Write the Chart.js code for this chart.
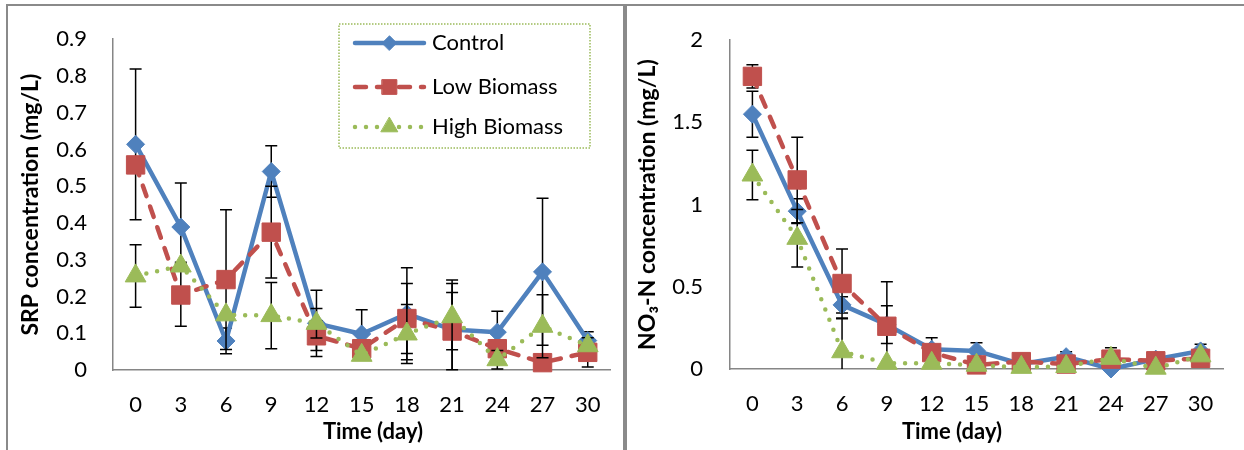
<!DOCTYPE html>
<html>
<head>
<meta charset="utf-8">
<script src="https://cdn.jsdelivr.net/npm/chart.js@4.4.0/dist/chart.umd.min.js"></script>
<style>
  html, body { margin: 0; padding: 0; background: #fff; }
  body { width: 1244px; height: 450px; position: relative; overflow: hidden; }
  canvas { position: absolute; top: 0; }
  #srpChart { left: 0; }
  #no3Chart { left: 627px; }
  .frame { position: absolute; border: 0 solid #8a8a8a; pointer-events: none; }
  #frame1 { left: 6px; top: 4px; width: 615px; height: 460px; border-width: 2px 2px 0 2px; }
  #frame2 { left: 625px; top: 4px; width: 700px; height: 460px; border-width: 2px 0 0 2px; }
</style>
</head>
<body>
<canvas id="srpChart" width="623" height="450"></canvas>
<canvas id="no3Chart" width="617" height="450"></canvas>
<div class="frame" id="frame1"></div>
<div class="frame" id="frame2"></div>
<script>
// 采样时间 (day)
const days = ['0', '3', '6', '9', '12', '15', '18', '21', '24', '27', '30'];
const seriesNames = ['Control', 'Low Biomass', 'High Biomass'];

// SRP (mg/L)
const srpControl = [0.614, 0.389, 0.079, 0.54, 0.127, 0.098, 0.153, 0.11, 0.103, 0.267, 0.08];
const srpLow     = [0.558, 0.204, 0.246, 0.375, 0.093, 0.058, 0.14, 0.106, 0.058, 0.02, 0.048];
const srpHigh    = [0.256, 0.283, 0.15, 0.148, 0.127, 0.04, 0.098, 0.145, 0.028, 0.119, 0.066];
const srpControlErr = [0.205, 0.12, 0.035, 0.07, 0.09, 0.066, 0.125, 0.135, 0.057, 0.2, 0.024];
const srpLowErr     = [0, 0.085, 0.19, 0.125, 0.04, 0, 0.095, 0.105, 0, 0, 0.04];
const srpHighErr    = [0.085, 0.01, 0, 0.09, 0.04, 0, 0.08, 0.09, 0.025, 0.086, 0];
const srpTicks = { min: 0, max: 0.9, step: 0.1 };

// NO3-N (mg/L)
const no3Control = [1.55, 0.96, 0.39, 0.27, 0.12, 0.11, 0.03, 0.075, 0.0, 0.06, 0.11];
const no3Low     = [1.78, 1.15, 0.52, 0.26, 0.10, 0.025, 0.045, 0.03, 0.06, 0.05, 0.065];
const no3High    = [1.18, 0.795, 0.105, 0.035, 0.035, 0.023, 0.01, 0.015, 0.065, 0.005, 0.08];
const no3ControlErr = [0.14, 0.075, 0.05, 0.115, 0.07, 0.05, 0, 0.03, 0.13, 0, 0.04];
const no3LowErr     = [0.07, 0.26, 0.21, 0.27, 0, 0, 0, 0, 0, 0, 0];
const no3HighErr    = [0.15, 0.175, 0.2, 0, 0, 0, 0, 0, 0, 0, 0];
const no3Ticks = { min: 0, max: 2, step: 0.5 };

const FONT = 'Lato, "DejaVu Sans", sans-serif';
Chart.defaults.font.family = FONT;
Chart.defaults.color = '#000';

// 系列样式
const styles = [
    { color: '#4F81BD', pointStyle: 'rectRot', pointRadius: 9, dash: [], cap: 'round' },
    { color: '#C0504D', pointStyle: 'rect', pointRadius: 13, dash: [11, 11], cap: 'round' },
    { color: '#9BBB59', pointStyle: 'triangle', pointRadius: 12, dash: [0, 11], cap: 'round' }
];

function makeDataset(i, values, errors) {
    const s = styles[i];
    return {
        label: seriesNames[i],
        data: values,
        errors: errors,
        borderColor: s.color,
        backgroundColor: s.color,
        borderWidth: 4.5,
        borderDash: s.dash,
        borderCapStyle: s.cap,
        borderJoinStyle: 'round',
        pointStyle: s.pointStyle,
        pointRadius: s.pointRadius,
        pointBackgroundColor: s.color,
        pointBorderColor: s.color,
        pointBorderWidth: 1,
        tension: 0,
        clip: false,
        order: 3 - i
    };
}

// 误差线
const errorBars = {
    id: 'errorBars',
    beforeDatasetDraw(chart, args) {
        const ds = chart.data.datasets[args.index];
        if (!ds.errors) return;
        const y = chart.scales.y;
        const ctx = chart.ctx;
        ctx.save();
        ctx.strokeStyle = '#000';
        ctx.lineWidth = 1.5;
        args.meta.data.forEach((pt, i) => {
            const e = ds.errors[i];
            if (!e) return;
            const v = ds.data[i];
            const lo = v - e;
            const top = y.getPixelForValue(v + e);
            const bot = y.getPixelForValue(Math.max(lo, y.min));
            ctx.beginPath();
            ctx.moveTo(pt.x, top);
            ctx.lineTo(pt.x, bot);
            ctx.moveTo(pt.x - 6, top);
            ctx.lineTo(pt.x + 6, top);
            if (lo >= y.min) {
                ctx.moveTo(pt.x - 6, bot);
                ctx.lineTo(pt.x + 6, bot);
            }
            ctx.stroke();
        });
        ctx.restore();
    }
};

// 图例（虚线框）
const boxLegend = {
    id: 'boxLegend',
    afterDraw(chart, args, opts) {
        if (!opts.display) return;
        const ctx = chart.ctx;
        ctx.save();
        ctx.strokeStyle = '#9BBB59';
        ctx.lineWidth = 1.5;
        ctx.setLineDash([1.5, 1.5]);
        ctx.strokeRect(opts.left, opts.top, opts.width, opts.height);
        chart.data.datasets.forEach((ds, i) => {
            const y = opts.rows[i];
            ctx.setLineDash(ds.borderDash);
            ctx.lineCap = ds.borderCapStyle;
            ctx.strokeStyle = ds.borderColor;
            ctx.lineWidth = ds.borderWidth;
            ctx.beginPath();
            ctx.moveTo(opts.lineX0, y);
            ctx.lineTo(opts.lineX1, y);
            ctx.stroke();
            ctx.setLineDash([]);
            ctx.fillStyle = ds.pointBackgroundColor;
            ctx.strokeStyle = ds.pointBorderColor;
            ctx.lineWidth = 1;
            Chart.helpers.drawPoint(ctx, {
                pointStyle: ds.pointStyle,
                radius: ds.pointRadius * 0.8,
                rotation: 0,
                borderWidth: 1
            }, (opts.lineX0 + opts.lineX1) / 2, y);
            ctx.fillStyle = '#000';
            ctx.font = '22px ' + FONT;
            ctx.textBaseline = 'middle';
            ctx.textAlign = 'left';
            ctx.fillText(ds.label, opts.textX, y);
        });
        ctx.restore();
    }
};

// x 轴标题
const xTitle = {
    id: 'xTitle',
    afterDraw(chart, args, opts) {
        const ctx = chart.ctx;
        ctx.save();
        ctx.font = 'bold 22px ' + FONT;
        ctx.fillStyle = '#000';
        ctx.textAlign = 'center';
        ctx.textBaseline = 'middle';
        ctx.fillText(opts.text, opts.x, opts.y);
        ctx.restore();
    }
};

function createChart(id, datasets, ticks, yTitle, box) {
    return new Chart(document.getElementById(id), {
        type: 'line',
        data: { labels: days, datasets: datasets },
        plugins: [errorBars, boxLegend, xTitle],
        options: {
            responsive: false,
            animation: false,
            events: [],
            devicePixelRatio: 1,
            layout: {
                autoPadding: false,
                padding: { top: box.top, right: box.right, left: 0, bottom: 0 }
            },
            plugins: {
                legend: { display: false },
                tooltip: { enabled: false },
                boxLegend: box.legend,
                xTitle: { text: 'Time (day)', x: box.xTitleX, y: 432 }
            },
            scales: {
                x: {
                    type: 'category',
                    offset: true,
                    grid: { display: false, drawTicks: false },
                    border: { display: true, color: '#868686', width: 1.5 },
                    ticks: { padding: 22, font: { size: 22 }, maxRotation: 0, autoSkip: false },
                    afterFit: function(scale) { scale.height = box.xHeight; }
                },
                y: {
                    min: ticks.min,
                    max: ticks.max,
                    grid: { display: false, drawTicks: false },
                    border: { display: true, color: '#868686', width: 1.5 },
                    ticks: {
                        stepSize: ticks.step,
                        padding: box.tickPad,
                        font: { size: 22 },
                        callback: function(value) { return String(Number(value.toFixed(2))); }
                    },
                    title: {
                        display: true,
                        text: yTitle,
                        font: { size: 23, weight: 'bold' },
                        padding: { top: box.titlePad, bottom: 0 }
                    },
                    afterFit: function(scale) { scale.width = box.yWidth; }
                }
            }
        }
    });
}

createChart('srpChart', [
    makeDataset(0, srpControl, srpControlErr),
    makeDataset(1, srpLow, srpLowErr),
    makeDataset(2, srpHigh, srpHighErr)
], srpTicks, 'SRP concentration (mg/L)', {
    top: 30, right: 11, xHeight: 80, yWidth: 113, tickPad: 26, titlePad: 17, xTitleX: 373,
    legend: {
        display: true, left: 339, top: 24, width: 251, height: 124,
        rows: [43, 87, 127], lineX0: 355, lineX1: 424, textX: 432
    }
});

createChart('no3Chart', [
    makeDataset(0, no3Control, no3ControlErr),
    makeDataset(1, no3Low, no3LowErr),
    makeDataset(2, no3High, no3HighErr)
], no3Ticks, 'NO₃-N concentration (mg/L)', {
    top: 27, right: 21, xHeight: 81, yWidth: 103, tickPad: 27, titlePad: 7, xTitleX: 325,
    legend: { display: false }
});
</script>
</body>
</html>
